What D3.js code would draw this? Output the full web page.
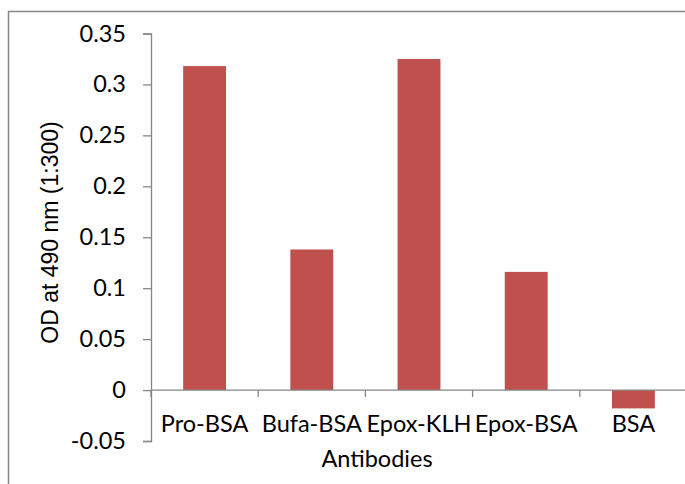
<!DOCTYPE html>
<html>
<head>
<meta charset="utf-8">
<script src="https://cdn.jsdelivr.net/npm/d3@7"></script>
<style>
  body { margin: 0; background: #fff; }
  svg { display: block; font-family: Lato, "Liberation Sans", Arial, sans-serif; }
</style>
</head>
<body>
<svg width="685" height="484"></svg>
<script>
const categories = ["Pro-BSA", "Bufa-BSA", "Epox-KLH", "Epox-BSA", "BSA"];
const values = [0.318, 0.138, 0.325, 0.116, -0.018];
const yTicks = [-0.05, 0, 0.05, 0.1, 0.15, 0.2, 0.25, 0.3, 0.35];
const yTitle = "OD at 490 nm (1:300)";
const xTitle = "Antibodies";

const svg = d3.select("svg");
const axisColor = "#868686";
const fontSize = 23.5;

// chart frame (runs off the right and bottom edge)
svg.append("rect")
    .attr("x", 8.5).attr("y", 11.5)
    .attr("width", 700).attr("height", 500)
    .attr("fill", "none")
    .attr("stroke", axisColor)
    .attr("stroke-width", 1.5);

const plot = { left: 151, right: 687, top: 33.5, bottom: 441 };

const x = d3.scaleBand()
    .domain(categories)
    .range([plot.left, plot.right])
    .paddingInner(0.6)
    .paddingOuter(0.3);

const y = d3.scaleLinear()
    .domain([-0.05, 0.35])
    .range([plot.bottom, plot.top]);

// bars
svg.append("g")
    .selectAll("rect")
    .data(values)
    .join("rect")
    .attr("x", (d, i) => x(categories[i]))
    .attr("width", x.bandwidth())
    .attr("y", d => y(Math.max(0, d)))
    .attr("height", d => Math.abs(y(d) - y(0)))
    .attr("fill", "#C0504D");

// y axis
const yAxis = svg.append("g")
    .attr("transform", `translate(${plot.left},0)`)
    .call(d3.axisLeft(y).tickValues(yTicks).tickSize(8).tickPadding(17)
        .tickFormat(d => String(+d.toFixed(2))));
yAxis.select(".domain").attr("stroke", axisColor).attr("stroke-width", 1.3);
yAxis.selectAll(".tick line").attr("stroke", axisColor).attr("stroke-width", 1.3);
yAxis.selectAll(".tick text")
    .attr("fill", "#000")
    .attr("font-size", fontSize)
    .attr("font-family", "Lato, Liberation Sans, Arial, sans-serif");

// x axis at zero
const y0 = y(0);
svg.append("line")
    .attr("x1", plot.left).attr("x2", plot.right)
    .attr("y1", y0).attr("y2", y0)
    .attr("stroke", axisColor).attr("stroke-width", 1.3);

const step = x.step();
const boundaries = d3.range(categories.length + 1).map(i => plot.left + i * step);
svg.append("g")
    .selectAll("line")
    .data(boundaries)
    .join("line")
    .attr("x1", d => d).attr("x2", d => d)
    .attr("y1", y0).attr("y2", y0 + 7)
    .attr("stroke", axisColor).attr("stroke-width", 1.3);

svg.append("g")
    .selectAll("text")
    .data(categories)
    .join("text")
    .attr("x", d => x(d) + x.bandwidth() / 2)
    .attr("y", 432)
    .attr("text-anchor", "middle")
    .attr("font-size", fontSize)
    .text(d => d);

// axis titles (the y title is set in an Arial-like face in the original)
svg.append("text")
    .attr("transform", "translate(58,232.5) rotate(-90)")
    .attr("text-anchor", "middle")
    .attr("font-family", "Liberation Sans, Arial, sans-serif")
    .attr("font-size", 23)
    .text(yTitle);

svg.append("text")
    .attr("x", 377)
    .attr("y", 467)
    .attr("text-anchor", "middle")
    .attr("font-size", fontSize)
    .text(xTitle);
</script>
</body>
</html>
